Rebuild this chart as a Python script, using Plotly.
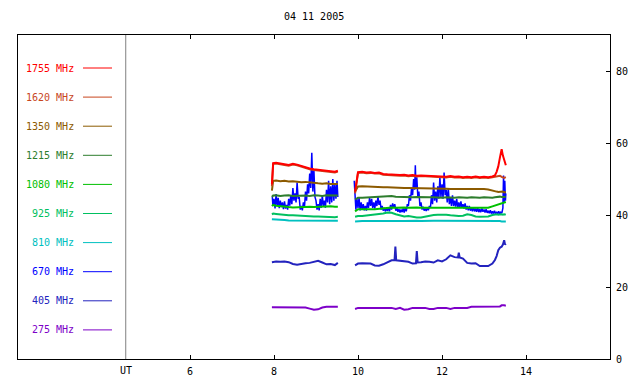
import plotly.graph_objects as go

# ---- data (hours UT, flux) ----
t1 = [7.95, 7.98, 8.05, 8.15, 8.25, 8.35, 8.45, 8.55, 8.65, 8.75, 8.85, 8.95, 9.05, 9.15, 9.25, 9.35, 9.45, 9.52]
t2 = [9.93, 10.0, 10.1, 10.2, 10.3, 10.4, 10.5, 10.6, 10.7, 10.8, 10.9, 11.0, 11.1, 11.2, 11.3, 11.4, 11.5,
      11.6, 11.7, 11.8, 11.9, 12.0, 12.1, 12.2, 12.3, 12.4, 12.5, 12.6, 12.7, 12.8, 12.9, 13.0, 13.1, 13.2,
      13.26, 13.3, 13.34, 13.38, 13.42, 13.45, 13.48, 13.52]

f1755_a = [48.5, 54.4, 54.5, 54.4, 54.1, 53.9, 54.2, 54.0, 53.6, 53.2, 52.9, 52.7, 52.6, 52.5, 52.4, 52.2, 52.0, 52.3]
f1755_b = [46.5, 51.9, 52.0, 51.8, 51.9, 51.7, 51.8, 51.4, 51.3, 51.2, 51.3, 51.1, 51.2, 51.0, 51.1, 50.9, 51.0,
           50.9, 50.8, 50.9, 50.7, 50.7, 50.6, 50.8, 50.6, 50.7, 50.5, 50.6, 50.5, 50.7, 50.5, 50.6, 50.5, 50.7,
           51.0, 52.0, 53.5, 56.0, 58.3, 56.5, 55.2, 53.8]
f1620_a = [48.0, 54.2, 54.3, 54.2, 53.9, 53.7, 54.0, 53.8, 53.4, 53.0, 52.7, 52.5, 52.4, 52.3, 52.2, 52.0, 51.8, 52.1]
f1620_b = [46.0, 51.7, 51.8, 51.6, 51.7, 51.5, 51.6, 51.2, 51.1, 51.0, 51.1, 50.9, 51.0, 50.8, 50.9, 50.7, 50.8,
           50.7, 50.6, 50.7, 50.5, 50.5, 50.4, 50.6, 50.4, 50.5, 50.3, 50.4, 50.3, 50.5, 50.3, 50.4, 50.3, 50.5,
           50.6, 50.7, 50.8, 50.9, 50.6, 50.4, 50.3, 50.5]
f1350_a = [46.8, 49.5, 49.6, 49.4, 49.5, 49.3, 49.4, 49.2, 49.1, 49.2, 49.0, 48.9, 48.8, 48.7, 48.8, 48.6, 48.5, 48.6]
f1350_b = [46.5, 47.9, 48.0, 47.9, 47.9, 47.8, 47.8, 47.7, 47.7, 47.6, 47.6, 47.6, 47.5, 47.5, 47.5, 47.4, 47.4,
           47.4, 47.3, 47.4, 47.3, 47.3, 47.3, 47.2, 47.3, 47.2, 47.2, 47.3, 47.2, 47.2, 47.3, 47.2, 47.1, 46.9,
           46.6, 46.5, 46.4, 46.5, 46.4, 46.5, 46.3, 46.4]
f1215_a = [45.0, 45.4, 45.5, 45.3, 45.4, 45.5, 45.3, 45.4, 45.5, 45.4, 45.3, 45.5, 45.4, 45.3, 45.5, 45.4, 45.3, 45.4]
f1215_b = [44.3, 44.8, 44.8, 44.9, 44.8, 44.9, 45.0, 45.3, 45.2, 45.3, 45.1, 45.0, 45.1, 45.0, 44.9, 45.0, 44.9,
           45.0, 44.9, 44.9, 44.8, 44.8, 44.9, 44.8, 44.8, 44.9, 44.8, 44.8, 44.9, 44.8, 44.8, 44.9, 44.8, 44.8,
           44.9, 45.0, 45.0, 45.1, 45.0, 45.1, 45.0, 45.1]
f1080_a = [42.5, 42.8, 42.6, 42.4, 42.3, 42.2, 42.1, 42.2, 42.1, 42.2, 42.3, 42.2, 42.3, 42.4, 42.5, 42.4, 42.3, 42.3]
f1080_b = [41.0, 41.6, 41.6, 41.5, 41.6, 41.6, 41.7, 42.0, 42.1, 42.1, 42.0, 42.1, 42.1, 42.0, 42.1, 42.1, 42.0,
           42.1, 42.0, 42.0, 42.0, 41.9, 41.9, 41.9, 41.8, 41.9, 41.9, 41.8, 41.9, 41.9, 41.8, 41.9, 42.0, 42.4,
           42.6, 42.8, 43.0, 43.2, 43.3, 43.4, 43.5, 43.6]
f925_a = [40.2, 40.4, 40.3, 40.1, 40.0, 39.9, 39.9, 39.8, 39.8, 39.7, 39.7, 39.6, 39.6, 39.5, 39.5, 39.4, 39.4, 39.5]
f925_b = [39.5, 39.7, 39.7, 39.8, 39.9, 40.1, 40.2, 40.4, 40.7, 40.6, 40.2, 39.8, 39.6, 39.7, 39.4, 39.3, 39.3,
          39.6, 39.9, 40.0, 40.1, 40.2, 40.1, 39.9, 39.7, 39.7, 39.8, 40.2, 40.0, 39.6, 39.5, 39.5, 39.6, 40.0,
          40.2, 40.2, 40.1, 40.2, 40.2, 40.1, 40.2, 40.1]
f810_a = [38.8, 38.8, 38.7, 38.6, 38.6, 38.5, 38.5, 38.5, 38.4, 38.5, 38.4, 38.5, 38.4, 38.4, 38.5, 38.4, 38.4, 38.4]
f810_b = [38.2, 38.3, 38.3, 38.3, 38.4, 38.3, 38.3, 38.4, 38.3, 38.3, 38.4, 38.3, 38.3, 38.4, 38.5, 38.4, 38.3,
          38.4, 38.3, 38.4, 38.4, 38.4, 38.5, 38.4, 38.4, 38.5, 38.4, 38.4, 38.5, 38.4, 38.4, 38.5, 38.4, 38.4,
          38.3, 38.4, 38.3, 38.3, 38.2, 38.3, 38.2, 38.2]
f275_a = [14.4, 14.4, 14.4, 14.5, 14.4, 14.4, 14.5, 14.4, 14.4, 14.3, 14.0, 13.7, 13.8, 14.3, 14.5, 14.5, 14.5, 14.5]
f275_b = [13.9, 14.2, 14.2, 14.2, 14.2, 14.2, 14.2, 14.2, 14.2, 14.2, 13.9, 14.2, 13.7, 13.8, 14.2, 14.2, 14.2,
          14.2, 13.9, 13.9, 14.2, 14.2, 14.2, 13.9, 14.2, 14.2, 14.2, 14.2, 14.5, 14.5, 14.5, 14.5, 14.5, 14.5,
          14.6, 14.5, 14.7, 14.6, 14.9, 14.8, 14.9, 14.8]

f405_a = [26.9, 27.0, 27.1, 27.0, 27.1, 26.9, 26.4, 26.2, 26.5, 26.6, 26.7, 27.0, 27.3, 26.8, 26.3, 26.4, 26.1, 26.7]
t405_b = [9.93, 10.0, 10.1, 10.2, 10.3, 10.4, 10.5, 10.6, 10.7, 10.8, 10.87, 10.89, 10.91, 11.0, 11.1, 11.2,
          11.3, 11.38, 11.40, 11.42, 11.5, 11.6, 11.7, 11.8, 11.9, 12.0, 12.1, 12.2, 12.3, 12.38, 12.4, 12.42,
          12.5, 12.6, 12.7, 12.8, 12.9, 13.0, 13.1, 13.2, 13.26, 13.3, 13.34, 13.38, 13.42, 13.45, 13.48, 13.5, 13.52]
f405_b = [26.0, 26.5, 26.6, 26.6, 26.5, 26.0, 25.9, 26.3, 26.8, 27.4, 27.4, 31.2, 27.4, 27.3, 27.1, 27.0,
          26.5, 26.6, 30.0, 26.8, 26.9, 27.1, 27.0, 26.8, 27.4, 27.1, 27.7, 28.8, 28.3, 28.2, 29.5, 28.2,
          27.9, 26.7, 26.5, 26.6, 25.8, 25.7, 25.8, 26.5, 27.5, 28.6, 30.2, 30.9, 31.2, 31.8, 33.0, 31.8, 32.1]

# 670 MHz samples as (hour, flux)
f670_a = [(7.96, 45.0), (7.975, 42.5), (8.0, 44.5), (8.025, 41.8), (8.05, 45.8), (8.075, 42.5), (8.1, 44.8),
          (8.125, 41.9), (8.15, 44.0), (8.175, 42.2), (8.2, 43.5), (8.225, 41.6), (8.25, 43.8), (8.275, 41.8),
          (8.3, 42.8), (8.325, 41.5), (8.35, 44.5), (8.375, 42.6), (8.4, 45.5), (8.425, 43.0), (8.45, 47.5),
          (8.475, 44.0), (8.5, 46.0), (8.525, 43.5), (8.55, 49.0), (8.575, 44.5), (8.6, 45.0), (8.625, 41.5),
          (8.65, 42.5), (8.675, 41.3), (8.7, 43.5), (8.725, 42.0), (8.75, 46.5), (8.775, 44.0), (8.8, 48.5),
          (8.825, 46.0), (8.85, 51.5), (8.875, 47.5), (8.9, 57.3), (8.925, 46.5), (8.95, 52.5), (8.975, 45.0),
          (9.0, 44.0), (9.025, 41.5), (9.05, 43.0), (9.075, 41.3), (9.1, 44.5), (9.125, 42.0), (9.15, 45.5),
          (9.175, 42.5), (9.2, 44.0), (9.225, 42.0), (9.25, 47.0), (9.275, 43.5), (9.3, 49.5), (9.325, 43.0),
          (9.35, 48.0), (9.375, 43.5), (9.4, 50.0), (9.425, 44.0), (9.45, 48.5), (9.475, 44.5), (9.5, 49.5),
          (9.52, 45.0)]
f670_b = [(9.91, 49.5), (9.93, 44.0), (9.95, 41.5), (9.975, 44.5), (10.0, 42.0), (10.025, 44.8), (10.05, 41.3),
          (10.075, 43.5), (10.1, 41.5), (10.125, 43.0), (10.15, 41.3), (10.175, 42.5), (10.2, 41.2),
          (10.225, 43.5), (10.25, 42.0), (10.275, 44.8), (10.3, 42.5), (10.325, 44.5), (10.35, 42.0),
          (10.375, 43.5), (10.4, 41.8), (10.425, 44.0), (10.45, 42.5), (10.475, 45.2), (10.5, 42.8),
          (10.525, 44.0), (10.55, 41.5), (10.575, 42.5), (10.6, 41.2), (10.625, 42.0), (10.65, 41.0),
          (10.675, 41.8), (10.7, 41.2), (10.725, 42.0), (10.75, 41.0), (10.775, 42.8), (10.8, 41.5),
          (10.825, 43.2), (10.85, 42.0), (10.875, 43.0), (10.9, 41.2), (10.925, 42.0), (10.95, 40.9),
          (10.975, 41.6), (11.0, 40.7), (11.025, 41.5), (11.05, 40.8), (11.075, 41.8), (11.1, 40.7),
          (11.125, 42.0), (11.15, 41.0), (11.175, 43.0), (11.2, 42.5), (11.225, 45.5), (11.25, 44.0),
          (11.275, 47.5), (11.3, 45.5), (11.325, 50.0), (11.35, 47.0), (11.365, 53.8), (11.38, 47.5),
          (11.4, 50.5), (11.425, 45.0), (11.45, 46.5), (11.475, 42.5), (11.5, 43.5), (11.525, 41.5),
          (11.55, 42.3), (11.575, 41.2), (11.6, 41.8), (11.625, 41.1), (11.65, 42.0), (11.675, 41.3),
          (11.7, 42.5), (11.725, 42.0), (11.75, 45.5), (11.775, 43.0), (11.8, 49.0), (11.825, 44.0),
          (11.85, 46.5), (11.875, 43.5), (11.9, 48.0), (11.925, 44.5), (11.95, 50.5), (11.975, 45.0),
          (12.0, 48.5), (12.025, 44.5), (12.05, 51.8), (12.075, 45.5), (12.1, 47.0), (12.125, 43.5),
          (12.15, 47.5), (12.175, 43.0), (12.2, 45.0), (12.225, 42.5), (12.25, 45.5), (12.275, 42.5),
          (12.3, 44.0), (12.325, 42.3), (12.35, 44.5), (12.375, 42.0), (12.4, 43.5), (12.425, 42.0),
          (12.45, 43.8), (12.475, 42.0), (12.5, 43.0), (12.525, 41.8), (12.55, 43.2), (12.575, 41.5),
          (12.6, 42.5), (12.625, 41.3), (12.65, 42.5), (12.675, 41.2), (12.7, 42.0), (12.725, 41.0),
          (12.75, 42.2), (12.775, 41.0), (12.8, 41.8), (12.825, 40.9), (12.85, 42.0), (12.875, 40.8),
          (12.9, 41.6), (12.925, 40.8), (12.95, 41.8), (12.975, 40.9), (13.0, 41.5), (13.025, 40.7),
          (13.05, 41.6), (13.075, 40.6), (13.1, 41.2), (13.125, 40.5), (13.15, 41.3), (13.175, 40.4),
          (13.2, 41.0), (13.225, 40.4), (13.25, 41.2), (13.275, 40.3), (13.3, 40.9), (13.325, 40.4),
          (13.35, 41.0), (13.375, 40.3), (13.4, 40.8), (13.425, 40.5), (13.45, 42.0), (13.465, 51.0),
          (13.48, 43.5), (13.495, 49.5), (13.51, 44.0), (13.52, 46.0)]

labels = ["1755 MHz", "1620 MHz", "1350 MHz", "1215 MHz", "1080 MHz",
          "925 MHz", "810 MHz", "670 MHz", "405 MHz", "275 MHz"]
colors = ["#ff0000", "#c8461e", "#8c5a00", "#2d7d2d", "#00c000",
          "#00c060", "#00c0c0", "#0000ff", "#2323be", "#7d00c8"]
x_ticks = [6, 8, 10, 12, 14]
y_ticks = [0, 20, 40, 60, 80]
title_text = "04 11 2005"

series = {
    "1755 MHz": (t1, f1755_a, t2, f1755_b),
    "1620 MHz": (t1, f1620_a, t2, f1620_b),
    "1350 MHz": (t1, f1350_a, t2, f1350_b),
    "1215 MHz": (t1, f1215_a, t2, f1215_b),
    "1080 MHz": (t1, f1080_a, t2, f1080_b),
    "925 MHz": (t1, f925_a, t2, f925_b),
    "810 MHz": (t1, f810_a, t2, f810_b),
    "670 MHz": ([p[0] for p in f670_a], [p[1] for p in f670_a],
                [p[0] for p in f670_b], [p[1] for p in f670_b]),
    "405 MHz": (t1, f405_a, t405_b, f405_b),
    "275 MHz": (t1, f275_a, t2, f275_b),
}
for k, (xa, ya, xb, yb) in series.items():
    assert len(xa) == len(ya), k
    assert len(xb) == len(yb), k

FONT = "DejaVu Sans Mono"
fig = go.Figure()

draw_order = ["670 MHz", "275 MHz", "405 MHz", "810 MHz", "925 MHz",
              "1080 MHz", "1215 MHz", "1350 MHz", "1620 MHz", "1755 MHz"]
for name in draw_order:
    xa, ya, xb, yb = series[name]
    c = colors[labels.index(name)]
    fig.add_trace(go.Scatter(x=xa + [None] + xb, y=ya + [None] + yb, mode="lines",
                             line=dict(color=c, width=2 if name != "670 MHz" else 1.5),
                             showlegend=False, connectgaps=False, hoverinfo="skip"))

# plot box geometry in page pixels (page body has an 8px margin)
OFF = 8
L, R, T, B = 18, 610, 35, 359
W, H = 640 - 2 * OFF, 384 - 2 * OFF
pw, ph = R - L, B - T

annotations = []
shapes = []
for i, (lab, c) in enumerate(zip(labels, colors)):
    py = 68 + 29.1 * i
    yp = (B - py) / ph
    annotations.append(dict(x=(76 - L) / pw, y=yp, xref="paper", yref="paper", text=lab,
                            showarrow=False, xanchor="right", yanchor="middle",
                            font=dict(family=FONT, size=10, color=c)))
    shapes.append(dict(type="line", xref="paper", yref="paper", x0=(83 - L) / pw, x1=(112 - L) / pw,
                       y0=yp, y1=yp, line=dict(color=c, width=1)))

ut_x = 4.47
shapes.append(dict(type="line", xref="x", yref="paper", x0=ut_x, x1=ut_x, y0=0, y1=1,
                   line=dict(color="#808080", width=1)))
annotations.append(dict(x=ut_x, y=0, xref="x", yref="paper", text="UT", showarrow=False,
                        yshift=-11, xanchor="center", yanchor="middle",
                        font=dict(family=FONT, size=10, color="black")))
annotations.append(dict(x=0.5, y=1 + (T - 17) / ph, xref="paper", yref="paper", text=title_text,
                        showarrow=False, xanchor="center", yanchor="middle",
                        font=dict(family=FONT, size=10, color="black")))

x_left = 8 + (L - 274) / 42.0
x_right = 8 + (R - 274) / 42.0

fig.update_layout(
    width=W, height=H, autosize=False,
    margin=dict(l=L - OFF, r=(W + OFF) - R, t=T - OFF, b=(H + OFF) - B, pad=0, autoexpand=False),
    paper_bgcolor="white", plot_bgcolor="white",
    font=dict(family=FONT, size=10, color="black"),
    xaxis=dict(range=[x_left, x_right], tickvals=x_ticks, ticks="inside", ticklen=4,
               tickcolor="black", showline=True, linecolor="black", linewidth=1,
               mirror="ticks", showgrid=False, zeroline=False, automargin=False,
               ticklabelstandoff=3,
               tickfont=dict(family=FONT, size=10, color="black")),
    yaxis=dict(range=[0, 90], tickvals=y_ticks, side="right", ticks="inside", ticklen=4,
               tickcolor="black", showline=True, linecolor="black", linewidth=1,
               mirror=True, showgrid=False, zeroline=False, automargin=False,
               ticklabelstandoff=3,
               tickfont=dict(family=FONT, size=10, color="black")),
    annotations=annotations, shapes=shapes,
)

fig.write_html("out.html")
